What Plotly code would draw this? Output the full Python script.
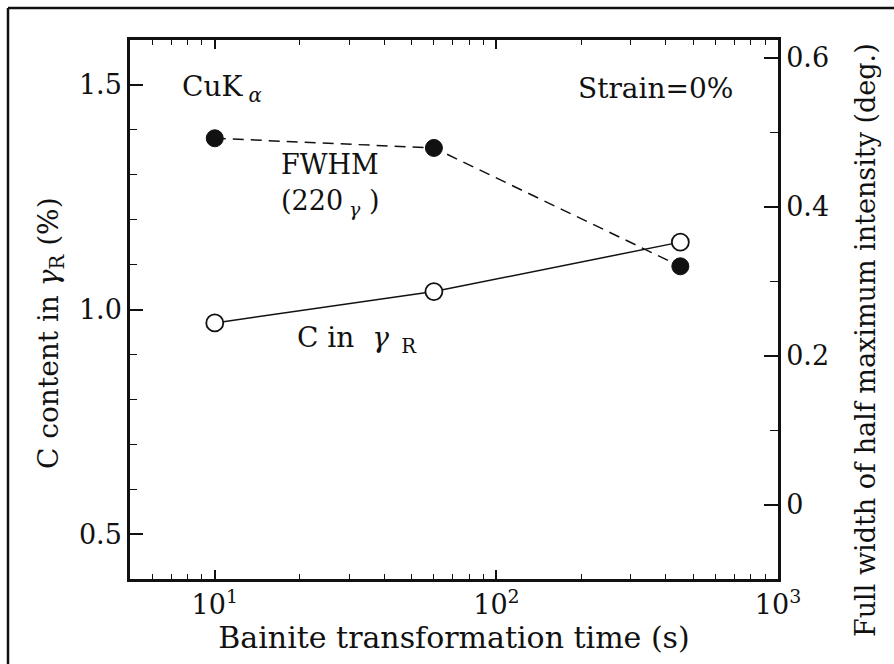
import plotly.graph_objects as go

# ---- data ----
time_s = [10, 60, 450]                 # Bainite transformation time (s)
c_content = [0.97, 1.04, 1.15]         # C content in gamma_R (%)  -> left axis
fwhm = [0.492, 0.479, 0.320]           # FWHM (deg.) -> right axis

x_tickvals = [10, 100, 1000]
x_ticktext = ["10<sup>1</sup>", "10<sup>2</sup>", "10<sup>3</sup>"]
x_minorvals = [6, 7, 8, 9, 20, 30, 40, 50, 60, 70, 80, 90,
               200, 300, 400, 500, 600, 700, 800, 900]
y1_tickvals = [0.5, 1.0, 1.5]
y1_ticktext = ["0.5", "1.0", "1.5"]
y1_minorvals = [0.6, 0.7, 0.8, 0.9, 1.1, 1.2, 1.3, 1.4]
y2_tickvals = [0, 0.2, 0.4, 0.6]
y2_ticktext = ["0", "0.2", "0.4", "0.6"]
y2_minorvals = [-0.1, 0.1, 0.3, 0.5]

FONT = "DejaVu Serif"
BLACK = "#111111"

fig = go.Figure()

fig.add_trace(go.Scatter(
    x=time_s, y=fwhm, yaxis="y2", mode="lines+markers",
    line=dict(color=BLACK, width=1.5, dash="11px,7px"),
    marker=dict(symbol="circle", size=17, color=BLACK, line=dict(color=BLACK, width=1)),
    name="FWHM", hoverinfo="skip"))

fig.add_trace(go.Scatter(
    x=time_s, y=c_content, mode="lines+markers",
    line=dict(color=BLACK, width=1.5),
    marker=dict(symbol="circle", size=17, color="white", line=dict(color=BLACK, width=1.8)),
    name="C in gamma_R", hoverinfo="skip"))

axis_common = dict(showline=True, linecolor=BLACK, linewidth=2.5, ticks="inside",
                   tickcolor=BLACK, tickwidth=1.5, showgrid=False, zeroline=False,
                   tickfont=dict(family=FONT, size=27, color=BLACK))

fig.update_layout(
    width=894, height=664,
    margin=dict(l=130, r=116, t=40, b=85),
    paper_bgcolor="white", plot_bgcolor="white",
    showlegend=False,
    font=dict(family=FONT, color=BLACK),
    xaxis=dict(type="log", range=[0.69897, 3.0], tickmode="array",
               tickvals=x_tickvals, ticktext=x_ticktext, ticklen=9,
               mirror="ticks",
               minor=dict(tickmode="array", tickvals=x_minorvals, ticks="inside",
                          ticklen=5, tickcolor=BLACK, tickwidth=1.2),
               title=dict(text="Bainite transformation time (s)",
                          font=dict(family=FONT, size=30, color=BLACK), standoff=0),
               **axis_common),
    yaxis=dict(range=[0.4, 1.6], tickmode="array", tickvals=y1_tickvals,
               ticktext=y1_ticktext, ticklen=13,
               minor=dict(tickmode="array", tickvals=y1_minorvals, ticks="inside",
                          ticklen=7, tickcolor=BLACK, tickwidth=1.2),
               **axis_common),
    yaxis2=dict(overlaying="y", side="right", range=[-0.1, 0.624], tickmode="array",
                tickvals=y2_tickvals, ticktext=y2_ticktext, ticklen=14,
                minor=dict(tickmode="array", tickvals=y2_minorvals, ticks="inside",
                           ticklen=8, tickcolor=BLACK, tickwidth=1.2),
                **axis_common),
)

def px(x):
    return (x - 130) / 648

def py(y):
    return (579 - y) / 539

# axis titles placed as annotations to match the reference positions
fig.add_annotation(xref="paper", yref="paper", x=px(50), y=py(333),
                   xanchor="center", yanchor="middle", showarrow=False, textangle=-90,
                   text="C content in <i>γ</i><sub>R</sub> (%)",
                   font=dict(family=FONT, size=28, color=BLACK))
fig.add_annotation(xref="paper", yref="paper", x=px(866), y=py(340),
                   xanchor="center", yanchor="middle", showarrow=False, textangle=-90,
                   text="Full width of half maximum intensity (deg.)",
                   font=dict(family=FONT, size=27, color=BLACK))

ann_font = dict(family=FONT, size=28, color=BLACK)
fig.add_annotation(xref="paper", yref="paper", x=px(180), y=py(88),
                   xanchor="left", yanchor="middle", showarrow=False,
                   text="CuK<sub> <i>α</i></sub>", font=ann_font)
fig.add_annotation(xref="paper", yref="paper", x=px(735), y=py(88),
                   xanchor="right", yanchor="middle", showarrow=False,
                   text="Strain=0%", font=ann_font)
fig.add_annotation(xref="paper", yref="paper", x=px(330), y=py(164),
                   xanchor="center", yanchor="middle", showarrow=False, borderpad=0,
                   text="FWHM", font=dict(family=FONT, size=27, color=BLACK))
fig.add_annotation(xref="paper", yref="paper", x=px(330), y=py(202),
                   xanchor="center", yanchor="middle", showarrow=False, borderpad=0,
                   text="(220<sub> <i>γ</i></sub> )", font=dict(family=FONT, size=27, color=BLACK))
fig.add_annotation(xref="paper", yref="paper", x=px(295), y=py(340),
                   xanchor="left", yanchor="middle", showarrow=False,
                   text="C in  <i>γ</i><sub>  R</sub>", font=ann_font)

# cropped page frame (top and left edges)
fig.add_shape(type="line", xref="paper", yref="paper",
              x0=px(8), x1=px(900), y0=py(8), y1=py(8),
              line=dict(color=BLACK, width=2.5))
fig.add_shape(type="line", xref="paper", yref="paper",
              x0=px(8), x1=px(8), y0=py(8), y1=py(670),
              line=dict(color=BLACK, width=2.5))

fig.write_html("out.html")
